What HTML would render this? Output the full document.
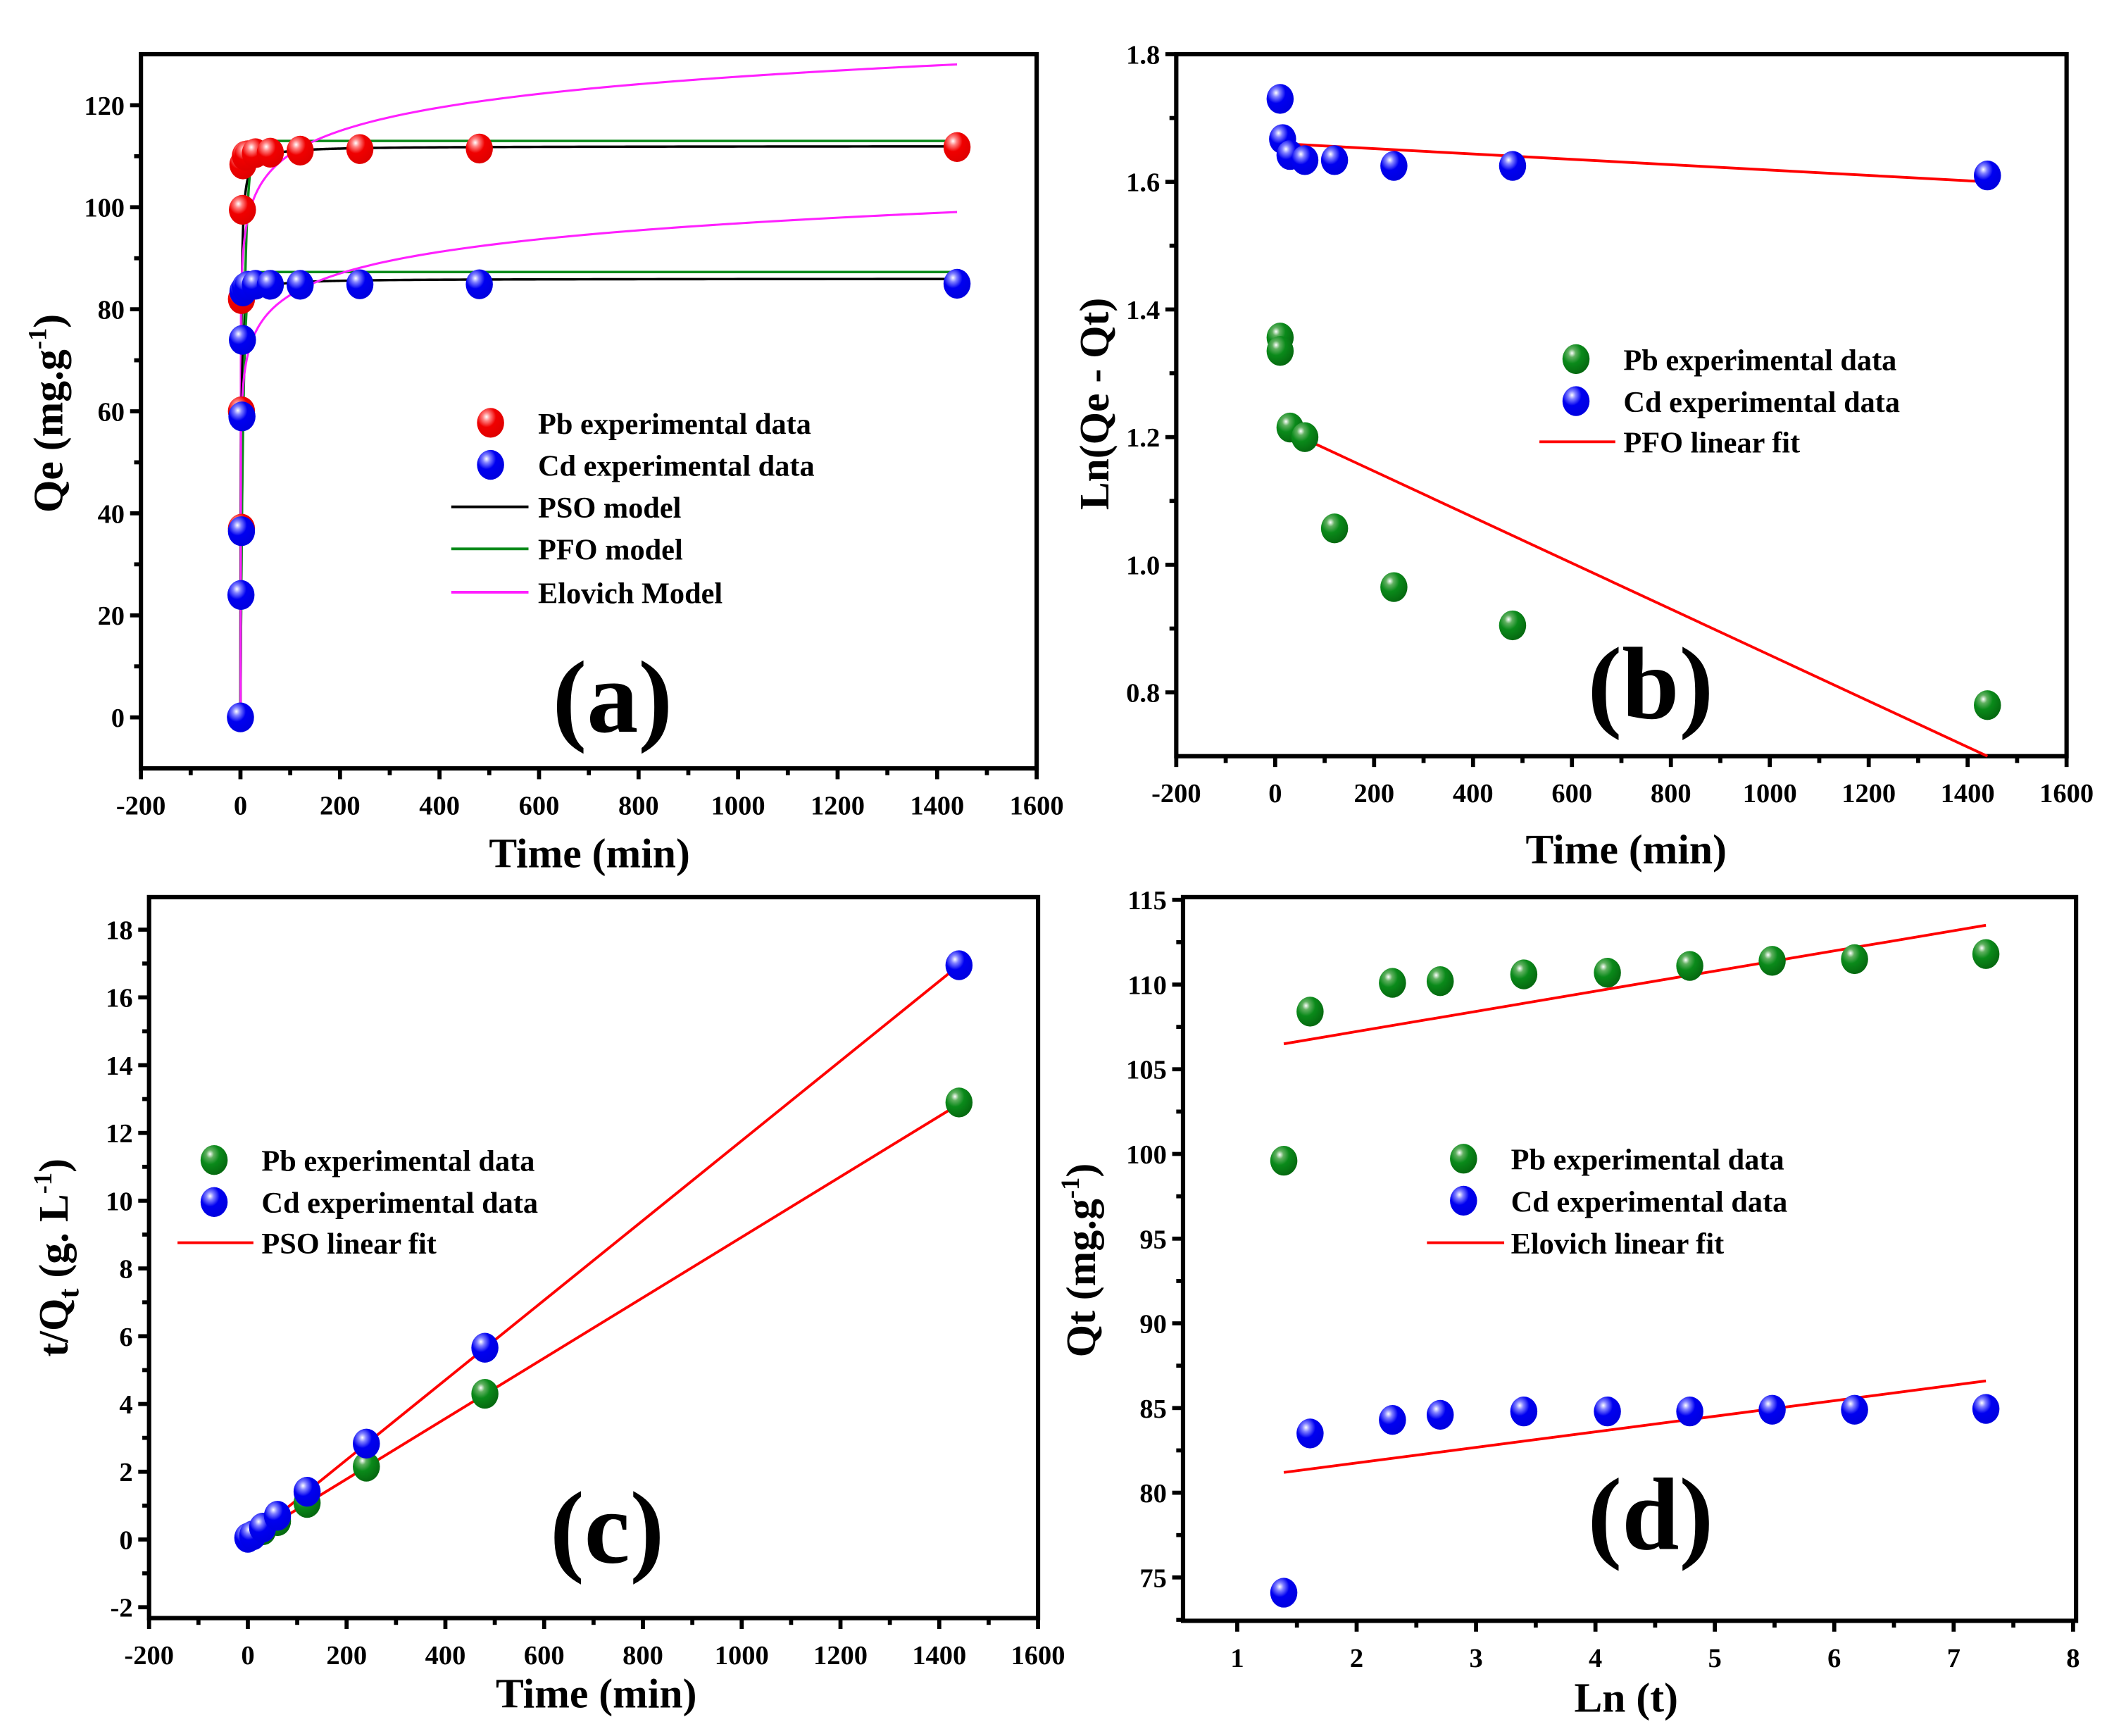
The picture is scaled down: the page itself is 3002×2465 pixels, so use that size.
<!DOCTYPE html>
<html><head><meta charset="utf-8"><style>
html,body{margin:0;padding:0;background:#fff;}
svg{display:block;font-family:"Liberation Serif",serif;font-weight:bold;}
</style></head><body>
<svg id="fig" width="3002" height="2465" viewBox="0 0 1560 1281" preserveAspectRatio="none" xmlns="http://www.w3.org/2000/svg">
<defs>
<radialGradient id="gRed" cx="0.35" cy="0.3" r="0.7"><stop offset="0" stop-color="#fff"/><stop offset="0.2" stop-color="#ff8080"/><stop offset="0.5" stop-color="#f00000"/><stop offset="1" stop-color="#e00000"/></radialGradient>
<radialGradient id="gBlue" cx="0.35" cy="0.3" r="0.7"><stop offset="0" stop-color="#fff"/><stop offset="0.2" stop-color="#8080ff"/><stop offset="0.5" stop-color="#0000f0"/><stop offset="1" stop-color="#0000e0"/></radialGradient>
<radialGradient id="gGreen" cx="0.35" cy="0.3" r="0.7"><stop offset="0" stop-color="#fff"/><stop offset="0.2" stop-color="#60b060"/><stop offset="0.5" stop-color="#0a8a1a"/><stop offset="1" stop-color="#066a10"/></radialGradient>
</defs>
</svg>
<script>
// ---------- Panel (a) data ----------
const aPbTime=[2,2,2,4,5,10,15,30,60,120,240,480,1440];
const aPbQe=[37,60,82,99.5,108.4,110.1,110.2,110.6,110.7,111.1,111.4,111.5,111.8];
const aCdTime=[0,1,2,3,4,5,10,15,30,60,120,240,480,1440];
const aCdQe=[0,24,36.5,59,74,83.5,84.3,84.6,84.8,84.8,84.8,84.9,84.9,85];
const psoQe=[112,86];
const psoK=[0.01,0.012];
const pfoQe=[113,87.3];
const pfoK=[0.15,0.2];
const elovichA=[80,54.7];
const elovichB=[6.6,6.1];
// ---------- Panel (b) data ----------
const bTime=[10,15,30,60,120,240,480,1440];
const bCd=[1.73,1.667,1.642,1.634,1.634,1.625,1.625,1.61];
const bPbTime=[10,10,30,60,120,240,480,1440];
const bPb=[1.356,1.335,1.215,1.2,1.057,0.965,0.905,0.78];
const bCdFit=[1.66,1.6];
const bPbFit=[1.215,0.70];
const bFitTime=[10,1440];
// ---------- Panel (c) data ----------
const cPbTime=[30,60,120,240,480,1440];
const cPb=[0.27,0.54,1.08,2.15,4.3,12.9];
const cCdTime=[0,10,30,60,120,240,480,1440];
const cCd=[0.05,0.12,0.35,0.7,1.41,2.83,5.66,16.95];
const cFitTime=[0,1440];
const cPbFit=[0,12.85];
const cCdFit=[0,16.95];
// ---------- Panel (d) data ----------
const dLnT=[1.39,1.61,2.3,2.7,3.4,4.1,4.79,5.48,6.17,7.27];
const dPb=[99.6,108.4,110.1,110.2,110.6,110.7,111.1,111.4,111.5,111.8];
const dCd=[74.1,83.5,84.3,84.6,84.8,84.8,84.8,84.9,84.9,84.95];
const dFitX=[1.39,7.27];
const dPbFit=[106.5,113.5];
const dCdFit=[81.2,86.6];
// ticks
const tickTime=[-200,0,200,400,600,800,1000,1200,1400,1600];
const tickA=[0,20,40,60,80,100,120];
const tickB=[0.8,1.0,1.2,1.4,1.6,1.8];
const tickC=[-2,0,2,4,6,8,10,12,14,16,18];
const tickDx=[1,2,3,4,5,6,7,8];
const tickDy=[75,80,85,90,95,100,105,110,115];

const NS="http://www.w3.org/2000/svg";
const svg=document.getElementById('fig');
function mk(tag,attrs,parent,txt){const e=document.createElementNS(NS,tag);for(const k in attrs)e.setAttribute(k,attrs[k]);if(txt!==undefined)e.textContent=txt;(parent||svg).appendChild(e);return e;}

function panel(name,box,xd,yd,xt,yt,xfmt,yfmt){
  const g=mk('g',{});
  
  
  const [L,R,T,B]=box;
  const sx=v=>L+(v-xd[0])/(xd[1]-xd[0])*(R-L);
  const sy=v=>B-(v-yd[0])/(yd[1]-yd[0])*(B-T);
  const fr=mk('rect',{x:L,y:T,width:R-L,height:B-T,fill:'none',stroke:'#000','stroke-width':3.2},g);
  
  
  for(let i=0;i<xt.length;i++){
    const x=sx(xt[i]);
    mk('line',{x1:x,x2:x,y1:B,y2:B+8,stroke:'#000','stroke-width':3},g);
    const t=mk('text',{x:x,y:B+34,'font-size':20,'text-anchor':'middle'},g,xfmt(xt[i]));
    
    
    if(i<xt.length-1){const xm=sx((xt[i]+xt[i+1])/2);mk('line',{x1:xm,x2:xm,y1:B,y2:B+5,stroke:'#000','stroke-width':3},g);}
  }
  for(let i=0;i<yt.length;i++){
    const y=sy(yt[i]);
    mk('line',{x1:L,x2:L-8,y1:y,y2:y,stroke:'#000','stroke-width':3},g);
    const t=mk('text',{x:L-12,y:y+7,'font-size':20,'text-anchor':'end'},g,yfmt(yt[i]));
    
    
    if(i<yt.length-1){const ym=sy((yt[i]+yt[i+1])/2);mk('line',{x1:L,x2:L-5,y1:ym,y2:ym,stroke:'#000','stroke-width':3},g);}
    if(i==0&&sy(yt[0]-(yt[1]-yt[0])/2)<B){const ym=sy(yt[0]-(yt[1]-yt[0])/2);mk('line',{x1:L,x2:L-5,y1:ym,y2:ym,stroke:'#000','stroke-width':3},g);}
  }
  return {g,sx,sy};
}
function dots(p,xs,ys,grad,name){
  for(let i=0;i<xs.length;i++){
    const c=mk('ellipse',{cx:p.sx(xs[i]),cy:p.sy(ys[i]),rx:10,ry:11,fill:'url(#'+grad+')'},p.g);
    
    
  }
}
function line(p,xs,ys,color,name,w){
  let d='';for(let i=0;i<xs.length;i++)d+=(i?'L':'M')+p.sx(xs[i]).toFixed(2)+','+p.sy(ys[i]).toFixed(2);
  const e=mk('path',{d:d,fill:'none',stroke:color,'stroke-width':w||1.6},p.g);
  
  
}
function text(x,y,s,size,name,anchor,rot){
  const a={x:x,y:y,'font-size':size,'text-anchor':anchor||'start'};
  if(rot)a.transform='rotate(-90 '+x+' '+y+')';
  const t=mk('text',a,svg);t.innerHTML=s;
  
  
  return t;
}
function legendDot(x,y,grad){const c=mk('ellipse',{cx:x,cy:y,rx:10,ry:11,fill:'url(#'+grad+')'});}
function legendLine(x1,x2,y,color){const l=mk('line',{x1:x1,x2:x2,y1:y,y2:y,stroke:color,'stroke-width':2});}
const I=v=>String(v);

// ===== Panel a =====
const pa=panel('panel-a',[104,765,40,567],[-200,1600],[-10,130],tickTime,tickA,I,I);
const tgrid=[];for(let t=0;t<=1440;t+=(t<20?0.25:(t<200?2:10)))tgrid.push(t);
for(let s=0;s<2;s++){
  line(pa,tgrid,tgrid.map(t=>psoQe[s]*psoQe[s]*psoK[s]*t/(1+psoQe[s]*psoK[s]*t)),'#000','pso-model-curve',1.8);
  line(pa,tgrid,tgrid.map(t=>pfoQe[s]*(1-Math.exp(-pfoK[s]*t))),'#0a8a1a','pfo-model-curve',1.8);
  const eg=tgrid.filter(t=>t>=1);
  line(pa,[0.3].concat(eg),[0].concat(eg.map(t=>elovichA[s]+elovichB[s]*Math.log(t))),'#ff20ff','elovich-model-curve',1.6);
}
dots(pa,aPbTime,aPbQe,'gRed','pb-point');
dots(pa,aCdTime,aCdQe,'gBlue','cd-point');
legendDot(362,312,'gRed');text(397,320,'Pb experimental data',22,'legend-label');
legendDot(362,343,'gBlue');text(397,351,'Cd experimental data',22,'legend-label');
legendLine(333,390,374,'#000');text(397,382,'PSO model',22,'legend-label');
legendLine(333,390,405,'#0a8a1a');text(397,413,'PFO model',22,'legend-label');
legendLine(333,390,437,'#ff20ff');text(397,445,'Elovich Model',22,'legend-label');
text(452,540,'(a)',76,'panel-label-a','middle');
text(435,640,'Time (min)',31,'x-axis-title','middle');
text(46,305,'Qe (mg.g<tspan dy="-12" font-size="19">-1</tspan><tspan dy="12">)</tspan>',31,'y-axis-title','middle',true);

// ===== Panel b =====
const pb=panel('panel-b',[868,1525,40,558],[-200,1600],[0.7,1.8],tickTime,tickB,I,v=>v.toFixed(1));
line(pb,bFitTime,bCdFit,'#f00','cd-pfo-fit',2);
line(pb,bFitTime,bPbFit,'#f00','pb-pfo-fit',2);
dots(pb,bPbTime,bPb,'gGreen','pb-point');
dots(pb,bTime,bCd,'gBlue','cd-point');
legendDot(1163,265,'gGreen');text(1198,273,'Pb experimental data',22,'legend-label');
legendDot(1163,296,'gBlue');text(1198,304,'Cd experimental data',22,'legend-label');
legendLine(1136,1192,326,'#f00');text(1198,334,'PFO linear fit',22,'legend-label');
text(1218,530,'(b)',76,'panel-label-b','middle');
text(1200,637,'Time (min)',31,'x-axis-title','middle');
text(818,298,'Ln(Qe - Qt)',31,'y-axis-title','middle',true);

// ===== Panel c =====
const pc=panel('panel-c',[110,766,662,1194],[-200,1600],[-2.32,18.96],tickTime,tickC,I,I);
line(pc,cFitTime,cCdFit,'#f00','cd-pso-fit',2);
line(pc,cFitTime,cPbFit,'#f00','pb-pso-fit',2);
dots(pc,cPbTime,cPb,'gGreen','pb-point');
dots(pc,cCdTime,cCd,'gBlue','cd-point');
legendDot(158,856,'gGreen');text(193,864,'Pb experimental data',22,'legend-label');
legendDot(158,887,'gBlue');text(193,895,'Cd experimental data',22,'legend-label');
legendLine(131,187,917,'#f00');text(193,925,'PSO linear fit',22,'legend-label');
text(448,1153,'(c)',76,'panel-label-c','middle');
text(440,1260,'Time (min)',31,'x-axis-title','middle');
text(50,928,'t/Q<tspan dy="8" font-size="22">t</tspan><tspan dy="-8"> (g. L</tspan><tspan dy="-12" font-size="19">-1</tspan><tspan dy="12">)</tspan>',31,'y-axis-title','middle',true);

// ===== Panel d =====
const pd=panel('panel-d',[873,1532,662,1196],[0.546,8.025],[72.44,115.16],tickDx,tickDy,I,I);
line(pd,dFitX,dPbFit,'#f00','pb-elovich-fit',2);
line(pd,dFitX,dCdFit,'#f00','cd-elovich-fit',2);
dots(pd,dLnT,dPb,'gGreen','pb-point');
dots(pd,dLnT,dCd,'gBlue','cd-point');
legendDot(1080,855,'gGreen');text(1115,863,'Pb experimental data',22,'legend-label');
legendDot(1080,886,'gBlue');text(1115,894,'Cd experimental data',22,'legend-label');
legendLine(1053,1110,917,'#f00');text(1115,925,'Elovich linear fit',22,'legend-label');
text(1218,1143,'(d)',76,'panel-label-d','middle');
text(1200,1263,'Ln (t)',31,'x-axis-title','middle');
text(808,930,'Qt (mg.g<tspan dy="-12" font-size="19">-1</tspan><tspan dy="12">)</tspan>',31,'y-axis-title','middle',true);
</script>
</body></html>
